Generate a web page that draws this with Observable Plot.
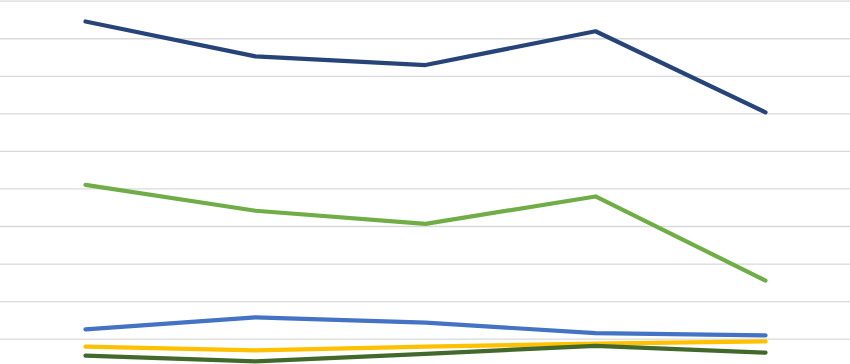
<!DOCTYPE html>
<html>
<head>
<meta charset="utf-8">
<script src="https://cdn.jsdelivr.net/npm/d3@7"></script>
<script src="https://cdn.jsdelivr.net/npm/@observablehq/plot@0.6"></script>
<style>
  html, body { margin: 0; padding: 0; background: #fff; overflow: hidden; }
  svg { display: block; }
</style>
</head>
<body>
<div id="chart"></div>
<script>
const categories = ["1", "2", "3", "4", "5"];
const gridTicks = [5, 10, 15, 20, 25, 30, 35, 40, 45, 50];
const seriesBlue = [6.3, 7.9, 7.2, 5.8, 5.5];
const seriesYellow = [4.0, 3.5, 4.0, 4.4, 4.7];
const seriesGreen = [25.55, 22.1, 20.35, 24.0, 12.8];
const seriesNavy = [47.3, 42.65, 41.5, 46.0, 35.2];
const seriesDarkGreen = [2.8, 2.05, 3.05, 4.1, 3.2];

const series = [
  {name: "Blue", values: seriesBlue, color: "#4472C4"},
  {name: "Yellow", values: seriesYellow, color: "#FFC000"},
  {name: "Green", values: seriesGreen, color: "#70AD47"},
  {name: "Navy", values: seriesNavy, color: "#264478"},
  {name: "DarkGreen", values: seriesDarkGreen, color: "#43682B"}
];

const rows = series.flatMap(s => s.values.map((v, i) => ({series: s.name, cat: categories[i], value: v, color: s.color})));

const chart = Plot.plot({
  width: 850,
  height: 364,
  marginTop: 0, marginBottom: 0, marginLeft: 0, marginRight: 0,
  x: {type: "point", domain: categories, range: [84, 765], padding: 0, axis: null},
  y: {type: "linear", domain: [0, 50], range: [376.2, 0.7], axis: null},
  style: {background: "#fff", overflow: "hidden"},
  marks: [
    Plot.ruleY(gridTicks, {stroke: "#d9d9d9", strokeWidth: 1.3}),
    ...series.map(s => Plot.line(rows.filter(r => r.series === s.name), {
      x: "cat", y: "value", stroke: s.color, strokeWidth: 4.2,
      strokeLinecap: "round", strokeLinejoin: "round", curve: "linear"
    }))
  ]
});
document.getElementById("chart").appendChild(chart);
</script>
</body>
</html>
